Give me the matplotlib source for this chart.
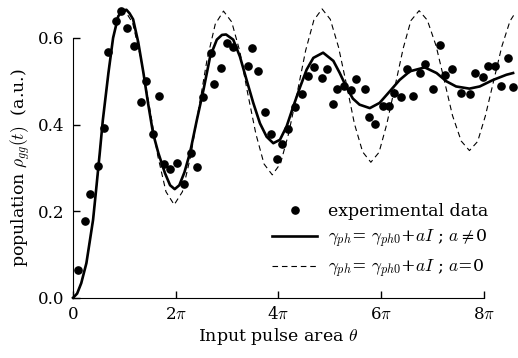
import numpy as np
import matplotlib
matplotlib.use("Agg")
import matplotlib.pyplot as plt

plt.rcParams['font.family'] = ['DejaVu Serif']
plt.rcParams['mathtext.fontset'] = 'cm'

# experimental points (theta in units of pi, population)
exp_theta = [0.10, 0.23, 0.34, 0.48, 0.60, 0.675, 0.84, 0.93, 1.06, 1.19,
             1.32, 1.42, 1.56, 1.67, 1.78, 1.89, 2.03, 2.16, 2.29, 2.41,
             2.54, 2.68, 2.75, 2.88, 2.99, 3.11, 3.40, 3.49, 3.61, 3.74,
             3.85, 3.98, 4.07, 4.19, 4.32, 4.45, 4.58, 4.69, 4.84, 4.95,
             5.06, 5.15, 5.27, 5.42, 5.52, 5.68, 5.76, 5.89, 6.04, 6.15,
             6.25, 6.39, 6.51, 6.62, 6.75, 6.86, 7.01, 7.14, 7.24, 7.39,
             7.55, 7.74, 7.82, 7.98, 8.09, 8.21, 8.33, 8.47, 8.57]
exp_pop = [0.065, 0.177, 0.240, 0.305, 0.393, 0.567, 0.640, 0.663, 0.623, 0.582,
           0.453, 0.500, 0.379, 0.465, 0.309, 0.298, 0.312, 0.263, 0.334, 0.303,
           0.463, 0.565, 0.494, 0.530, 0.588, 0.580, 0.536, 0.577, 0.523, 0.428,
           0.379, 0.320, 0.355, 0.390, 0.440, 0.470, 0.513, 0.534, 0.507, 0.529,
           0.448, 0.483, 0.488, 0.480, 0.506, 0.483, 0.417, 0.402, 0.443, 0.443,
           0.473, 0.463, 0.529, 0.467, 0.520, 0.540, 0.482, 0.584, 0.515, 0.529,
           0.474, 0.470, 0.520, 0.510, 0.536, 0.536, 0.490, 0.554, 0.486]

# fit with intensity dependent dephasing (a != 0)
fit_theta = [0, 0.08, 0.16, 0.26, 0.32, 0.39, 0.45, 0.52, 0.58, 0.69,
             0.78, 0.88, 0.96, 1.04, 1.10, 1.17, 1.27, 1.37, 1.46, 1.56,
             1.66, 1.79, 1.89, 1.98, 2.07, 2.17, 2.28, 2.41, 2.54, 2.67,
             2.80, 2.90, 2.98, 3.12, 3.25, 3.38, 3.51, 3.64, 3.77, 3.90,
             4.03, 4.16, 4.29, 4.42, 4.55, 4.68, 4.87, 5.07, 5.19, 5.33,
             5.45, 5.58, 5.78, 5.97, 6.17, 6.36, 6.56, 6.85, 7.08, 7.27,
             7.46, 7.72, 7.92, 8.18, 8.44, 8.57]
fit_pop = [0, 0.010, 0.034, 0.080, 0.126, 0.180, 0.250, 0.334, 0.410, 0.520,
           0.600, 0.650, 0.663, 0.665, 0.657, 0.643, 0.590, 0.520, 0.450, 0.379,
           0.335, 0.288, 0.260, 0.251, 0.260, 0.290, 0.336, 0.410, 0.480, 0.557,
           0.596, 0.607, 0.608, 0.596, 0.557, 0.503, 0.450, 0.403, 0.372, 0.357,
           0.365, 0.396, 0.442, 0.486, 0.527, 0.554, 0.566, 0.547, 0.520, 0.485,
           0.460, 0.446, 0.438, 0.450, 0.477, 0.503, 0.523, 0.532, 0.519, 0.500,
           0.488, 0.483, 0.488, 0.503, 0.515, 0.519]

# fit with constant dephasing (a = 0)
const_theta = [0, 0.08, 0.16, 0.26, 0.32, 0.39, 0.45, 0.52, 0.58, 0.69,
               0.78, 0.88, 1.00, 1.16, 1.32, 1.49, 1.65, 1.81, 1.97, 2.13,
               2.29, 2.45, 2.61, 2.77, 2.93, 3.09, 3.25, 3.40, 3.56, 3.72,
               3.88, 4.04, 4.20, 4.37, 4.53, 4.69, 4.85, 5.01, 5.17, 5.33,
               5.48, 5.64, 5.80, 5.96, 6.11, 6.27, 6.43, 6.58, 6.74, 6.90,
               7.07, 7.23, 7.39, 7.56, 7.72, 7.88, 8.03, 8.19, 8.35, 8.51, 8.58]
const_pop = [0, 0.010, 0.034, 0.080, 0.126, 0.180, 0.250, 0.334, 0.410, 0.520,
             0.600, 0.650, 0.665, 0.635, 0.553, 0.440, 0.328, 0.245, 0.215, 0.245,
             0.327, 0.438, 0.550, 0.632, 0.662, 0.637, 0.568, 0.473, 0.379, 0.309,
             0.284, 0.310, 0.380, 0.476, 0.571, 0.641, 0.667, 0.643, 0.579, 0.490,
             0.402, 0.337, 0.313, 0.336, 0.401, 0.488, 0.576, 0.640, 0.663, 0.641,
             0.582, 0.502, 0.421, 0.362, 0.340, 0.361, 0.420, 0.500, 0.580, 0.639, 0.652]

xticks = [0, 2, 4, 6, 8]
xticklabels = ['0', r'2$\pi$', r'4$\pi$', r'6$\pi$', r'8$\pi$']
yticks = [0.0, 0.2, 0.4, 0.6]

fig = plt.figure(figsize=(5.18, 3.58), dpi=100)
ax = fig.add_axes([0.141, 0.168, 0.793, 0.726])

ax.plot(np.array(exp_theta) * np.pi, exp_pop, 'o', color='black', ms=5.2,
        clip_on=False, label='experimental data')
ax.plot(np.array(fit_theta) * np.pi, fit_pop, '-', color='black', lw=1.9,
        clip_on=False, label=r'$\gamma_{ph}$= $\gamma_{ph0}$+$aI$ ; $a$$\neq$0')
ax.plot(np.array(const_theta) * np.pi, const_pop, '--', color='black', lw=0.8,
        dashes=(5, 3.5), clip_on=False, label=r'$\gamma_{ph}$= $\gamma_{ph0}$+$aI$ ; $a$=0')

ax.set_xlim(0, 8 * np.pi)
ax.set_ylim(0, 0.6)
ax.set_xticks(np.array(xticks) * np.pi)
ax.set_xticklabels(xticklabels)
ax.set_yticks(yticks)
ax.set_yticklabels(['0.0', '0.2', '0.4', '0.6'])
ax.tick_params(direction='in', length=5, width=1, labelsize=12, pad=6)
ax.spines['top'].set_visible(False)
ax.spines['right'].set_visible(False)

ax.set_xlabel(r'Input pulse area $\theta$', fontsize=12.5, labelpad=2)
ax.set_ylabel(r'population $\rho_{gg}(t)$  (a.u.)', fontsize=12.5, labelpad=4)

ax.legend(loc='lower right', bbox_to_anchor=(1.035, 0.03), frameon=False,
          fontsize=12.5, handlelength=2.6, handletextpad=0.6, labelspacing=0.45,
          borderaxespad=0.2)

fig.savefig('out.png', dpi=100)
